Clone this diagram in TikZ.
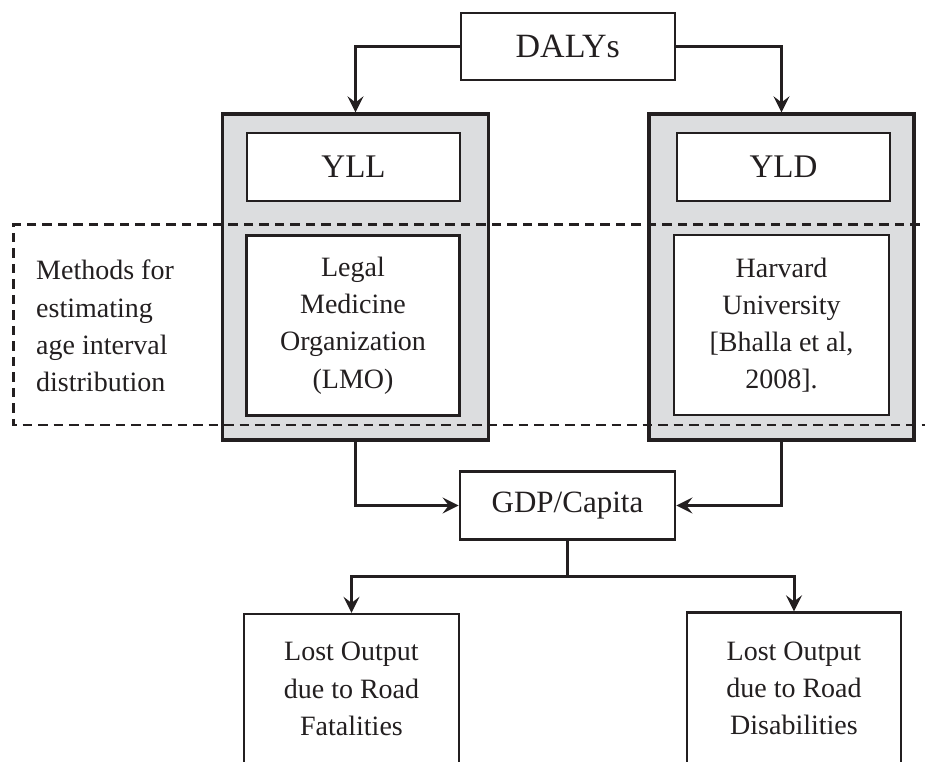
\documentclass[tikz,border=0pt]{standalone}
\usepackage{fontspec}
\setmainfont{Liberation Serif}
\usetikzlibrary{arrows.meta}
\definecolor{ink}{HTML}{231F20}
\definecolor{panel}{HTML}{DCDDDF}
\tikzset{
  box/.style={draw=ink, line width=2.3pt, fill=white, inner sep=0pt, text=ink, align=center},
  bigtxt/.style={font=\fontsize{34}{40}\selectfont},
  smalltxt/.style={font=\fontsize{28}{37.2}\selectfont},
  outerbox/.style={draw=ink, line width=3.3pt, fill=panel, inner sep=0pt},
  conn/.style={draw=ink, line width=3pt, -{Stealth[length=16pt,width=16pt,inset=6pt]}},
  plainconn/.style={draw=ink, line width=3pt},
  dashbox/.style={draw=ink, line width=2.8pt, dash pattern=on 9.5pt off 6pt}
}
\begin{document}
\begin{tikzpicture}[x=1pt,y=-1pt]
\useasboundingbox (0,0) rectangle (925,761);
\clip (0,0) rectangle (925,761);
% outer panels
\node[outerbox, minimum width=265.6pt, minimum height=326pt] (yllouter) at (355.5,277) {};
\node[outerbox, minimum width=265pt, minimum height=326pt] (yldouter) at (781.5,277) {};
% top box
\node[box, bigtxt, minimum width=214pt, minimum height=67.3pt] (dalys) at (567.8,46.3) {DALYs};
% inner boxes
\node[box, font=\fontsize{33}{40}\selectfont, minimum width=213.6pt, minimum height=67.4pt] (yll) at (353.5,167) {YLL};
\node[box, font=\fontsize{33}{40}\selectfont, minimum width=213.6pt, minimum height=67.4pt] (yld) at (783.5,167) {YLD};
\node[box, smalltxt, minimum width=213pt, minimum height=180pt] (lmo) at (353,325.5) {Legal\\Medicine\\Organization\\(LMO)};
\node[box, smalltxt, minimum width=215pt, minimum height=180pt] (harv) at (781.5,325) {Harvard\\University\\{[}Bhalla et al,\\2008{]}.};
% GDP
\node[box, font=\fontsize{31}{38}\selectfont, line width=2.8pt, minimum width=215pt, minimum height=67.6pt] (gdp) at (567.5,505.5) {GDP/Capita};
% bottom boxes
\node[box, smalltxt, minimum width=214.4pt, minimum height=150pt] (lost1) at (351.5,689) {Lost Output\\due to Road\\Fatalities};
\node[box, smalltxt, minimum width=213.4pt, minimum height=152pt] (lost2) at (794,688.5) {Lost Output\\due to Road\\Disabilities};
% methods label
\node[smalltxt, text=ink, align=left, anchor=west, inner sep=0pt] (methods) at (36,326) {Methods for\\estimating\\age interval\\distribution};
% dashed region
\coordinate (dtr) at (935,224.5);
\coordinate (dtl) at (13.3,224.5);
\coordinate (dbl) at (13.3,425);
\coordinate (dbr) at (935,425);
\draw[dashbox] (dtr) -- (dtl) -- (dbl) -- (dbr);
% connectors
\draw[conn] (dalys.west) -| (yllouter.north);
\draw[conn] (dalys.east) -| (yldouter.north);
\draw[conn] (yllouter.south) |- (gdp.west);
\draw[conn] (yldouter.south) |- (gdp.east);
\coordinate (split) at (567.5,576);
\draw[plainconn] (gdp.south) -- (split);
\draw[conn] (split) -| (lost1.north);
\draw[conn] (split) -| (lost2.north);
\end{tikzpicture}
\end{document}
